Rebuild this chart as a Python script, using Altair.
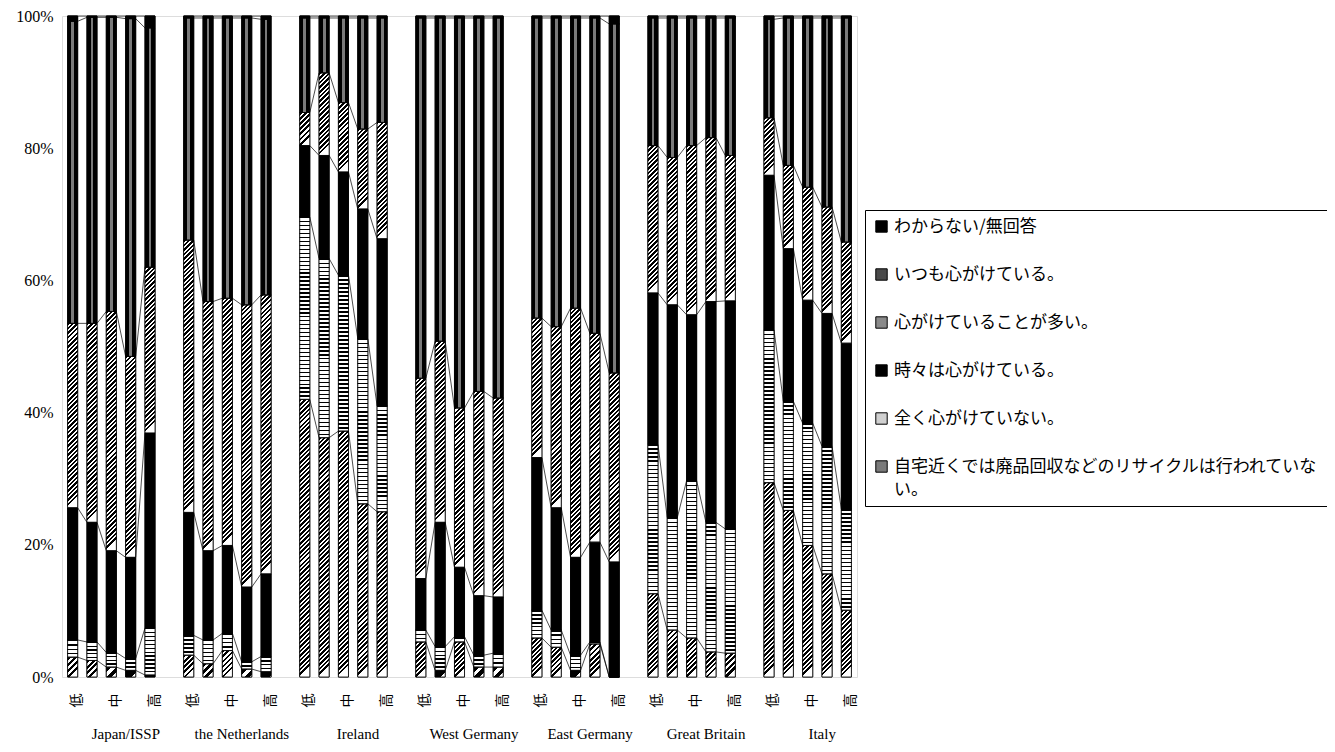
import json
import altair as alt
import pandas as pd

countries = ["Japan/ISSP", "the Netherlands", "Ireland", "West Germany",
             "East Germany", "Great Britain", "Italy"]
edu_labels = ["低", "", "中", "", "高"]

series_names = [
    "わからない/無回答",
    "いつも心がけている。",
    "心がけていることが多い。",
    "時々は心がけている。",
    "全く心がけていない。",
    "自宅近くでは廃品回収などのリサイクルは行われていない。",
]

# values (%) for each bar: 7 countries x 5 groups
dontknow = [0.8, 0.2, 0.2, 0.4, 1.8,  0.3, 0.3, 0.3, 0.3, 0.5,  0.3, 0.3, 0.3, 0.3, 0.3,
            0.3, 0.3, 0.3, 0.3, 0.3,  0.3, 0.3, 0.3, 0.3, 1.2,  0.3, 0.3, 0.3, 0.3, 0.3,
            0.5, 0.3, 0.3, 0.3, 0.3]
always = [45.7, 46.3, 44.5, 51.1, 36.2,  33.6, 42.9, 42.4, 43.4, 41.7,  14.3, 8.3, 12.8, 16.8, 15.8,
          54.5, 48.9, 59.0, 56.5, 57.5,  45.4, 46.7, 43.9, 47.7, 52.8,  19.3, 21.1, 19.3, 18.1, 20.8,
          14.9, 22.3, 25.6, 28.6, 33.9]
often = [27.9, 30.1, 36.2, 30.4, 25.1,  41.2, 37.7, 37.4, 42.7, 42.2,  5.0, 12.5, 10.5, 12.1, 17.6,
         30.3, 27.4, 24.1, 30.9, 30.1,  21.1, 27.4, 37.7, 31.6, 28.6,  22.3, 22.3, 25.6, 24.8, 22.0,
         8.7, 12.6, 17.1, 16.1, 15.3]
sometimes = [20.0, 18.1, 15.4, 15.3, 29.5,  18.6, 13.5, 13.3, 11.3, 12.5,  10.8, 15.6, 15.6, 19.6, 25.3,
             7.8, 18.8, 10.5, 9.0, 8.5,  23.1, 18.5, 14.8, 15.1, 17.4,  22.9, 32.2, 25.1, 33.4, 34.5,
             23.4, 23.1, 18.6, 20.1, 25.1]
never = [2.6, 2.8, 2.2, 1.8, 7.1,  3.0, 3.6, 2.6, 1.1, 2.3,  27.6, 27.1, 23.6, 25.0, 16.0,
         1.8, 3.6, 0.8, 1.8, 2.1,  4.2, 2.6, 2.3, 0.3, 0.0,  22.6, 17.0, 23.8, 19.6, 18.8,
         23.1, 16.5, 18.5, 19.3, 15.3]
norecycle = [3.0, 2.5, 1.5, 1.0, 0.3,  3.3, 2.0, 4.0, 1.2, 0.8,  42.0, 36.2, 37.2, 26.2, 25.0,
             5.3, 1.0, 5.3, 1.5, 1.5,  5.9, 4.5, 1.0, 5.0, 0.0,  12.6, 7.1, 5.9, 3.8, 3.6,
             29.4, 25.2, 19.9, 15.6, 10.1]

series_values = [dontknow, always, often, sometimes, never, norecycle]
legend_fills = ["#000000", "#4a4a4a", "#8a8a8a", "#000000", "#d0d0d0", "#7a7a7a"]

# ---- layout / style constants ----
PLOT_W, PLOT_H = 795, 661
n_per = len(edu_labels)
slot = n_per + 1
half = 0.26
x_domain = [-0.55, (len(countries) - 1) * slot + n_per - 1 + 0.55]
px_per_x = PLOT_W / (x_domain[1] - x_domain[0])
bar_w_px = 2 * half * px_per_x


def stripes(h_px, period, frac_dark, dark="#000000", light="#ffffff", diagonal=True):
    n = max(1, round(h_px / period))
    stops = []
    for i in range(n):
        a, b, c = i / n, (i + frac_dark) / n, (i + 1) / n
        stops += [{"offset": a, "color": dark}, {"offset": b, "color": dark},
                  {"offset": b, "color": light}, {"offset": c, "color": light}]
    x2 = bar_w_px / max(h_px, 1) if diagonal else 0
    return {"gradient": "linear", "x1": 0, "y1": 0, "x2": x2, "y2": 1, "stops": stops}


dotted = {"gradient": "linear", "x1": 0, "y1": 0, "x2": 1, "y2": 0,
          "stops": [{"offset": 0, "color": "#000000"}, {"offset": 0.36, "color": "#000000"},
                    {"offset": 0.36, "color": "#7a7a7a"}, {"offset": 0.64, "color": "#7a7a7a"},
                    {"offset": 0.64, "color": "#000000"}, {"offset": 1, "color": "#000000"}]}


def pattern_for(si, h_px):
    if si in (0, 3):
        return "#000000"
    if si == 1:
        return dotted
    if si == 2:
        return stripes(h_px, 4.5, 0.55)
    if si == 4:
        return stripes(h_px, 4.0, 0.35, diagonal=False)
    return stripes(h_px, 4.5, 0.55)


bar_rows, pat_rows, line_rows = [], [], []
for ci, country in enumerate(countries):
    for k in range(n_per):
        bi = ci * n_per + k
        idx = ci * slot + k
        total = sum(s[bi] for s in series_values)
        cum = 0.0
        for si in reversed(range(len(series_names))):
            v = series_values[si][bi] / total
            lo, hi = cum, cum + v
            cum = hi
            bar_rows.append(dict(series=series_names[si], x0=idx - half, x1=idx + half,
                                 lo=lo, hi=hi, order=len(series_names) - si))
            if v > 0:
                pat_rows.append(dict(x0=idx - half, x1=idx + half, lo=lo, hi=hi,
                                     fill=pattern_for(si, v * PLOT_H)))
            for j, xx in enumerate((idx - half, idx + half)):
                line_rows.append(dict(grp=f"{ci}-{si}", x=xx, y=hi, ord=k * 2 + j))

bars_df = pd.DataFrame(bar_rows)
lines_df = pd.DataFrame(line_rows)
country_df = pd.DataFrame({"country": countries,
                           "cx": [ci * slot + 2.75 for ci in range(len(countries))]})

label_positions = [ci * slot + k for ci in range(len(countries))
                   for k in range(n_per) if edu_labels[k]]
label_expr = json.dumps(edu_labels + [""], ensure_ascii=False) + f"[datum.value % {slot}]"

xscale = alt.Scale(domain=x_domain, nice=False, zero=False)
yscale = alt.Scale(domain=[0, 1], nice=False)

x_axis = alt.Axis(values=label_positions, labelExpr=label_expr, title=None,
                  grid=False, ticks=False, domain=False, labelAngle=270,
                  labelPadding=16, labelOffset=4, labelFlush=False,
                  labelOverlap=False, labelSeparation=0,
                  labelFont="Noto Sans CJK JP", labelFontSize=14, labelColor="black")
y_axis = alt.Axis(format=".0%", values=[0, 0.2, 0.4, 0.6, 0.8, 1.0], title=None,
                  grid=False, ticks=False, domain=False, labelPadding=9,
                  labelFont="Liberation Serif", labelFontSize=16, labelColor="black")

base_bars = alt.Chart(bars_df).mark_bar(stroke="black", strokeWidth=0.8).encode(
    x=alt.X("x0:Q", scale=xscale, axis=x_axis),
    x2="x1:Q",
    y=alt.Y("lo:Q", scale=yscale, axis=y_axis),
    y2="hi:Q",
    order=alt.Order("order:Q"),
    color=alt.Color("series:N",
                    scale=alt.Scale(domain=series_names, range=legend_fills),
                    legend=alt.Legend(
                        orient="none", legendX=803, legendY=194, title=None,
                        symbolType="square", symbolSize=130, symbolStrokeColor="black",
                        symbolStrokeWidth=1, labelFont="Noto Sans CJK JP",
                        labelFontSize=17, labelColor="black", labelLimit=700,
                        labelOffset=4, rowPadding=30, padding=8,
                        strokeColor="black", fillColor="white",
                        labelExpr="length(datum.label) > 25 ? [substring(datum.label, 0, 25), substring(datum.label, 25)] : datum.label")),
)

pattern_bars = alt.Chart(alt.Data(values=pat_rows)).mark_bar(
    stroke="black", strokeWidth=0.8).encode(
    x=alt.X("x0:Q", scale=xscale, axis=x_axis),
    x2="x1:Q",
    y=alt.Y("lo:Q", scale=yscale, axis=y_axis),
    y2="hi:Q",
    fill=alt.Fill("fill:N", scale=None, legend=None),
)

lines = alt.Chart(lines_df).mark_line(color="black", strokeWidth=0.7).encode(
    x=alt.X("x:Q", scale=xscale, axis=x_axis),
    y=alt.Y("y:Q", scale=yscale, axis=y_axis),
    detail="grp:N",
    order="ord:Q",
)

labels = alt.Chart(country_df).mark_text(font="Liberation Serif", fontSize=15,
                                         color="black", baseline="middle").encode(
    x=alt.X("cx:Q", scale=xscale, axis=x_axis),
    y=alt.value(718),
    text="country:N",
)

chart = alt.layer(base_bars, pattern_bars, lines, labels).properties(
    width=PLOT_W, height=PLOT_H, autosize="none",
    padding={"left": 54, "top": 8, "right": 470, "bottom": 66},
).configure_view(stroke="black", strokeWidth=1).configure_axisX(
    labelOverlap=False).configure(
    style={"guide-label": {"lineHeight": 23}})

chart.save("out.html", embed_options={"renderer": "svg", "actions": False})
